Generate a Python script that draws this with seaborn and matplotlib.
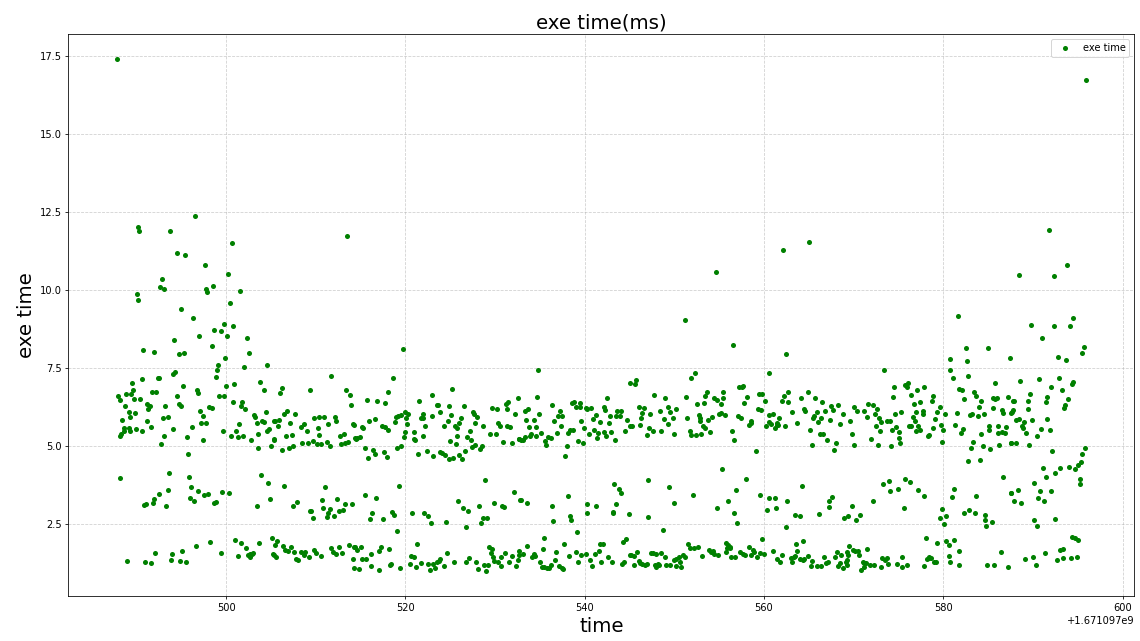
import matplotlib
matplotlib.use("Agg")
import matplotlib.pyplot as plt
import seaborn as sns
import pandas as pd
import numpy as np

T0 = 1671097000  # base epoch second; offsets below are seconds after it

# --- readings, grouped by time window (seconds after T0, exe time in ms) ---
t_a = [487.8, 490.2, 490.3, 493.7, 494.5, 495.4, 492.8, 492.6, 493.1, 490.0, 490.2, 495.0, 494.2, 490.7, 492.0, 494.7, 495.3, 494.3, 494.1, 492.4, 492.5, 489.5, 490.6, 495.2, 487.9, 488.1, 488.8, 489.4, 489.6, 489.7, 490.4, 491.7, 492.2, 494.5, 488.7, 491.2, 491.5, 493.2, 494.7, 495.0, 489.1, 489.8, 489.3, 491.3, 488.4, 491.2, 493.0, 493.5, 488.6, 488.6, 488.3, 488.2, 489.2, 489.3, 489.9, 490.6, 491.6, 494.1, 493.1, 492.7, 495.6, 495.7, 488.2, 493.6, 495.8, 493.5, 492.5, 492.0, 491.8, 491.0, 490.8, 493.3, 488.9, 490.9, 491.6, 492.1, 493.8, 494.0, 494.8, 495.1, 495.5]
v_a = [17.39, 12.02, 11.9, 11.88, 11.17, 11.13, 10.34, 10.09, 10.03, 9.86, 9.66, 9.39, 8.4, 8.06, 8.01, 7.93, 7.99, 7.38, 7.3, 7.18, 7.18, 7.01, 7.13, 6.91, 6.58, 6.47, 6.66, 6.66, 6.78, 6.51, 6.51, 6.74, 6.74, 6.58, 6.29, 6.33, 6.29, 6.29, 6.33, 6.29, 6.08, 6.06, 5.93, 6.17, 5.84, 5.81, 5.89, 5.91, 5.58, 5.47, 5.39, 5.3, 5.56, 5.48, 5.53, 5.48, 5.6, 5.53, 5.32, 5.06, 5.28, 4.74, 3.96, 4.12, 3.99, 3.57, 3.46, 3.28, 3.17, 3.12, 3.1, 3.08, 1.31, 1.29, 1.23, 1.57, 1.33, 1.53, 1.31, 1.62, 1.27]

t_b = [496.5, 500.6, 497.6, 500.2, 497.7, 497.9, 498.5, 501.5, 500.4, 496.3, 498.6, 499.4, 499.8, 500.8, 497.0, 500.1, 502.3, 498.4, 502.5, 499.9, 499.1, 499.0, 498.9, 502.0, 504.6, 503.8, 504.2, 500.0, 500.9, 496.7, 496.9, 499.2, 499.7, 500.8, 501.8, 501.7, 502.1, 498.1, 498.4, 497.1, 497.4, 497.2, 497.8, 496.2, 503.1, 503.2, 504.4, 504.0, 504.2, 503.4, 505.3, 501.4, 499.6, 501.1, 500.5, 501.3, 501.9, 502.8, 503.5, 504.5, 504.8, 505.3, 505.0, 503.6, 497.4, 496.1, 496.0, 496.4, 496.8, 497.5, 498.0, 498.6, 498.9, 499.5, 500.3, 503.9, 504.7, 504.9, 503.4, 496.6, 498.2, 499.4, 501.0, 501.6, 501.3, 502.2, 502.4, 502.7, 502.9, 503.0, 502.6, 503.7, 505.1, 505.2]
v_b = [12.38, 11.5, 10.79, 10.52, 10.02, 9.94, 10.11, 9.97, 9.59, 9.09, 8.71, 8.68, 8.91, 8.84, 8.51, 8.51, 8.44, 8.2, 7.96, 7.82, 7.6, 7.43, 7.2, 7.53, 7.58, 7.06, 6.8, 6.93, 6.99, 6.78, 6.7, 6.6, 6.6, 6.39, 6.39, 6.28, 6.18, 6.24, 6.2, 6.13, 5.97, 5.74, 5.72, 5.6, 5.99, 5.93, 6.09, 5.8, 5.76, 5.72, 5.79, 5.7, 5.48, 5.46, 5.32, 5.28, 5.32, 5.2, 5.39, 5.46, 5.53, 5.2, 5.0, 4.93, 5.2, 3.69, 3.34, 3.23, 3.54, 3.43, 3.46, 3.16, 3.19, 3.52, 3.5, 4.06, 3.81, 3.28, 3.06, 1.79, 1.91, 1.56, 1.97, 1.87, 1.47, 1.71, 1.49, 1.44, 1.52, 1.56, 1.53, 1.87, 2.04, 1.52]

t_c = [513.5, 511.7, 506.2, 506.0, 509.4, 513.4, 513.8, 513.9, 506.4, 506.8, 507.7, 505.4, 505.9, 505.8, 507.1, 508.3, 508.7, 509.0, 509.8, 510.4, 510.9, 510.2, 510.3, 511.4, 512.1, 512.3, 514.1, 506.7, 507.3, 505.3, 506.2, 507.0, 507.5, 508.5, 509.1, 509.7, 510.1, 510.6, 511.2, 511.6, 512.7, 513.1, 512.8, 513.2, 513.6, 514.4, 506.5, 511.0, 507.9, 507.4, 510.7, 512.4, 509.3, 509.5, 510.8, 511.3, 511.2, 511.6, 512.0, 512.6, 513.0, 513.3, 514.0, 509.7, 505.7, 505.4, 506.3, 505.3, 505.6, 506.6, 506.9, 507.2, 507.6, 507.8, 508.0, 508.3, 508.7, 508.8, 509.2, 509.8, 510.0, 510.6, 511.7, 511.9, 512.2, 512.6, 512.9, 513.7, 514.2, 514.3]
v_c = [11.71, 7.24, 6.86, 6.69, 6.78, 6.78, 6.63, 6.3, 6.03, 6.13, 6.03, 5.79, 5.82, 5.62, 5.72, 5.6, 5.7, 5.47, 5.88, 5.93, 5.91, 5.56, 5.36, 5.7, 5.93, 5.79, 5.7, 5.3, 5.34, 5.21, 4.86, 4.92, 5.0, 5.08, 5.08, 5.14, 5.06, 5.05, 5.12, 4.99, 5.32, 5.37, 5.05, 5.1, 5.11, 5.24, 3.72, 3.68, 3.19, 3.06, 3.27, 3.29, 2.91, 2.91, 3.02, 2.83, 2.72, 2.97, 2.74, 2.91, 2.93, 3.12, 3.14, 2.69, 1.94, 1.82, 1.79, 1.5, 1.44, 1.66, 1.63, 1.76, 1.61, 1.38, 1.34, 1.59, 1.5, 1.61, 1.44, 1.66, 1.57, 1.46, 1.71, 1.59, 1.53, 1.76, 1.57, 1.81, 1.38, 1.76]

t_d = [519.7, 518.6, 518.0, 515.7, 516.8, 517.7, 521.5, 523.0, 523.5, 520.0, 520.3, 519.5, 519.2, 518.9, 518.8, 520.1, 520.2, 522.0, 521.7, 521.9, 523.0, 522.2, 515.9, 516.6, 515.2, 515.3, 517.4, 517.7, 518.1, 519.9, 519.8, 521.0, 521.0, 521.1, 522.0, 514.3, 514.5, 514.6, 514.9, 515.5, 515.8, 516.4, 516.6, 517.6, 517.9, 519.1, 519.5, 521.4, 522.4, 523.1, 519.3, 515.5, 516.7, 516.3, 516.0, 517.5, 518.5, 518.7, 519.0, 520.7, 522.1, 522.5, 522.9, 521.3, 514.4, 514.6, 515.0, 515.2, 515.6, 514.8, 514.3, 516.2, 516.1, 517.0, 517.1, 517.3, 518.2, 518.3, 518.4, 519.4, 520.5, 520.6, 520.9, 521.2, 521.7, 522.5, 522.7, 523.1, 523.3, 523.5]
v_d = [8.09, 7.16, 6.71, 6.47, 6.44, 6.38, 6.44, 6.63, 6.3, 6.08, 6.03, 5.98, 5.94, 5.92, 5.76, 5.89, 5.71, 6.03, 5.88, 5.88, 5.96, 5.64, 5.8, 5.86, 5.6, 5.57, 5.62, 5.6, 5.52, 5.43, 5.27, 5.43, 5.21, 5.17, 5.32, 5.67, 5.22, 5.24, 5.28, 4.93, 4.6, 4.86, 4.74, 4.8, 4.64, 4.93, 5.0, 4.74, 4.83, 4.66, 3.72, 3.43, 3.33, 2.83, 2.64, 2.64, 2.87, 2.77, 2.28, 2.83, 2.83, 2.74, 2.54, 1.86, 1.77, 1.66, 1.77, 1.37, 1.37, 1.06, 1.08, 1.54, 1.14, 1.03, 1.62, 1.77, 1.68, 1.19, 1.21, 1.09, 1.21, 1.47, 1.44, 1.11, 1.24, 1.21, 1.03, 1.21, 1.08, 1.26]

t_e = [525.2, 523.6, 524.8, 526.5, 532.6, 523.8, 525.1, 527.5, 527.6, 528.0, 526.2, 524.3, 525.5, 525.7, 526.0, 524.7, 527.8, 528.7, 529.7, 530.2, 530.3, 530.5, 531.2, 531.4, 531.3, 532.2, 531.3, 531.7, 527.2, 525.8, 526.9, 527.3, 525.0, 525.6, 527.8, 527.4, 528.5, 528.3, 529.4, 530.1, 530.9, 531.9, 532.7, 523.9, 524.1, 524.4, 524.9, 525.3, 526.0, 526.3, 526.6, 528.9, 532.1, 532.8, 525.9, 526.4, 527.0, 528.2, 529.9, 530.8, 531.0, 524.5, 526.8, 528.4, 528.7, 529.1, 529.3, 529.5, 529.6, 529.8, 529.9, 530.3, 530.7, 530.7, 531.1, 531.6, 531.9, 532.3, 532.5, 524.6, 523.9, 523.7, 524.3, 525.4, 526.8, 527.1, 527.9, 528.1, 528.8, 529.0, 529.2]
v_e = [6.82, 6.3, 6.27, 6.27, 6.54, 6.07, 5.99, 6.08, 6.02, 5.93, 5.89, 5.62, 5.64, 5.56, 5.72, 5.79, 5.74, 5.62, 6.2, 6.18, 5.74, 5.62, 6.33, 6.41, 6.17, 6.01, 5.64, 5.61, 5.46, 5.3, 5.29, 5.18, 5.14, 5.06, 5.02, 4.97, 5.0, 4.89, 5.37, 5.37, 5.12, 5.08, 5.21, 4.8, 4.76, 4.7, 4.58, 4.62, 4.69, 4.58, 4.84, 3.91, 3.53, 3.26, 3.23, 3.02, 2.9, 3.06, 3.17, 3.08, 3.03, 2.57, 2.39, 2.52, 2.67, 2.69, 1.77, 1.57, 1.69, 1.44, 1.32, 1.28, 1.44, 1.14, 1.57, 1.29, 1.48, 1.14, 1.34, 1.57, 1.38, 1.31, 1.14, 1.28, 1.28, 1.39, 1.26, 1.04, 1.18, 1.0, 1.19]

t_f = [534.8, 534.7, 536.3, 533.3, 533.7, 534.9, 537.2, 537.0, 537.5, 536.6, 538.6, 538.8, 539.0, 539.5, 539.5, 540.1, 540.3, 540.7, 541.2, 540.9, 533.4, 534.3, 533.8, 534.6, 537.3, 539.6, 539.9, 541.7, 532.7, 532.9, 533.1, 533.3, 533.9, 534.0, 534.6, 535.1, 535.6, 535.7, 535.9, 536.2, 536.9, 538.1, 538.4, 538.7, 538.0, 537.8, 539.2, 539.8, 540.5, 541.0, 541.5, 541.4, 532.9, 533.6, 536.3, 538.1, 538.3, 538.5, 536.5, 540.2, 540.3, 541.2, 539.1, 533.6, 535.5, 535.3, 537.7, 532.7, 533.1, 532.7, 534.1, 534.3, 534.4, 535.0, 535.2, 535.5, 535.8, 536.0, 536.2, 536.7, 536.8, 537.1, 537.5, 537.6, 538.2, 539.0, 539.2, 539.6, 540.1, 540.6, 540.8, 541.1, 541.6, 541.8, 541.7]
v_f = [7.42, 6.55, 6.31, 6.12, 6.18, 6.02, 6.12, 5.97, 5.97, 5.79, 6.36, 6.39, 6.24, 6.24, 6.38, 6.2, 6.17, 6.21, 5.99, 5.86, 5.84, 5.84, 5.6, 5.6, 5.64, 5.79, 5.58, 5.76, 5.21, 5.19, 5.17, 5.28, 5.32, 5.39, 5.3, 5.41, 5.14, 5.01, 5.27, 5.24, 5.41, 5.41, 5.51, 5.51, 4.99, 4.68, 5.16, 5.08, 5.37, 5.49, 5.41, 5.26, 3.26, 3.17, 3.08, 3.39, 2.74, 2.62, 2.58, 3.12, 2.86, 3.08, 2.23, 1.79, 2.04, 1.7, 1.86, 1.64, 1.52, 1.5, 1.43, 1.52, 1.48, 1.28, 1.12, 1.11, 1.08, 1.08, 1.19, 1.35, 1.61, 1.14, 1.09, 1.05, 1.46, 1.6, 1.26, 1.49, 1.52, 1.35, 1.13, 1.52, 1.64, 1.27, 1.86]

t_g = [545.7, 545.1, 545.6, 542.5, 547.7, 549.0, 542.2, 542.3, 546.0, 546.6, 543.6, 544.0, 549.3, 548.4, 549.5, 550.2, 546.4, 547.3, 542.8, 543.5, 543.9, 542.7, 544.7, 546.3, 548.8, 549.8, 545.0, 545.3, 546.2, 547.2, 549.3, 547.6, 544.5, 542.1, 542.9, 548.5, 542.4, 543.4, 546.9, 549.9, 547.0, 543.3, 543.8, 544.0, 549.4, 550.0, 543.5, 543.1, 543.2, 544.9, 547.1, 548.7, 542.0, 544.3, 544.6, 542.6, 543.0, 544.1, 544.4, 545.0, 545.2, 545.5, 545.5, 545.8, 546.0, 546.2, 546.4, 546.7, 546.9, 547.4, 547.6, 547.9, 547.8, 548.0, 548.2, 548.3, 548.5, 548.9, 549.1, 549.5, 549.9, 550.2, 550.5, 550.6, 550.7, 550.2]
v_g = [7.11, 7.02, 6.97, 6.52, 6.63, 6.54, 6.24, 6.14, 6.24, 6.2, 6.12, 6.12, 6.24, 6.11, 6.08, 6.17, 6.04, 6.03, 5.97, 5.96, 5.94, 5.74, 5.83, 5.88, 5.87, 5.89, 5.63, 5.63, 5.66, 5.58, 5.69, 5.47, 5.48, 5.43, 5.43, 5.46, 5.3, 5.17, 5.34, 5.37, 3.91, 3.77, 3.62, 3.48, 3.68, 3.16, 3.12, 2.89, 2.86, 2.82, 2.72, 2.29, 1.84, 1.91, 2.0, 1.43, 1.28, 1.22, 1.28, 1.5, 1.5, 1.46, 1.19, 1.6, 1.3, 1.24, 1.22, 1.19, 1.22, 1.57, 1.56, 1.54, 1.17, 1.1, 1.22, 1.17, 1.56, 1.43, 1.17, 1.19, 1.33, 1.36, 1.42, 1.28, 1.12, 1.14]

t_h = [554.6, 551.2, 556.5, 552.3, 551.9, 551.3, 553.6, 553.4, 555.4, 554.4, 554.7, 555.4, 557.2, 557.5, 557.7, 558.1, 559.4, 559.8, 552.5, 553.3, 555.2, 557.8, 559.3, 559.7, 551.4, 552.7, 552.9, 552.9, 553.7, 554.2, 555.0, 555.2, 555.6, 557.1, 557.4, 558.6, 558.5, 558.3, 551.7, 551.9, 552.4, 553.0, 553.2, 553.4, 554.0, 556.4, 556.7, 559.1, 555.3, 558.0, 552.1, 556.9, 559.6, 556.0, 554.8, 556.6, 557.0, 559.8, 551.5, 551.7, 552.2, 552.6, 551.0, 551.2, 553.1, 553.9, 554.1, 554.3, 554.4, 554.9, 555.7, 555.8, 556.0, 556.2, 556.2, 555.9, 556.3, 556.8, 557.3, 557.6, 557.9, 558.3, 558.6, 558.8, 558.9, 559.2, 559.5, 560.0]
v_h = [10.57, 9.04, 8.24, 7.32, 7.18, 6.56, 6.72, 6.61, 6.72, 6.53, 6.47, 6.53, 6.87, 6.9, 6.92, 6.56, 6.66, 6.67, 6.33, 6.36, 6.33, 6.37, 6.18, 6.16, 5.89, 5.99, 5.89, 5.81, 5.83, 5.93, 6.03, 6.06, 5.98, 5.97, 5.88, 5.81, 5.74, 5.68, 5.46, 5.33, 5.34, 5.38, 5.63, 5.58, 5.43, 5.48, 5.18, 4.82, 4.24, 3.95, 3.41, 3.58, 3.41, 3.23, 2.99, 2.86, 2.54, 2.01, 1.84, 1.71, 1.72, 1.77, 1.5, 1.43, 1.46, 1.66, 1.59, 1.64, 1.54, 1.5, 1.6, 1.89, 1.83, 1.76, 1.72, 1.72, 1.43, 1.43, 1.61, 1.54, 1.5, 1.77, 1.5, 1.67, 1.6, 1.43, 1.56, 1.52]

t_i = [562.1, 565.0, 562.4, 560.6, 560.1, 562.7, 562.2, 562.0, 562.7, 564.1, 564.9, 565.7, 566.5, 567.5, 567.7, 568.2, 564.5, 564.6, 563.1, 565.9, 565.6, 565.5, 566.8, 568.8, 560.2, 560.5, 560.6, 561.0, 560.8, 561.2, 561.5, 561.4, 561.7, 561.6, 562.3, 563.7, 566.0, 566.4, 567.4, 568.5, 565.1, 566.2, 566.6, 567.0, 568.0, 565.4, 567.8, 564.2, 560.5, 561.2, 562.6, 567.6, 567.2, 567.3, 560.3, 561.3, 563.5, 564.0, 566.1, 568.9, 562.5, 564.4, 563.6, 561.0, 562.0, 563.7, 561.5, 561.8, 563.0, 563.1, 563.3, 563.4, 564.0, 564.3, 564.5, 564.9, 565.2, 565.4, 565.9, 566.3, 566.7, 566.9, 567.1, 567.9, 568.1, 568.3, 568.5, 568.6, 568.8, 569.1, 569.2, 569.3]
v_i = [11.28, 11.52, 7.94, 7.32, 6.44, 6.72, 6.61, 6.44, 6.39, 6.52, 6.72, 6.52, 6.39, 6.26, 6.16, 6.3, 6.18, 6.12, 6.07, 6.08, 5.97, 5.88, 6.13, 6.01, 5.63, 5.76, 6.0, 6.01, 5.71, 5.57, 5.74, 5.68, 5.89, 5.66, 5.63, 5.74, 5.77, 5.9, 5.83, 5.71, 5.52, 5.39, 5.39, 5.18, 5.1, 5.01, 4.88, 3.7, 3.32, 3.34, 3.23, 3.37, 3.24, 3.03, 2.93, 2.99, 2.79, 2.74, 2.82, 2.7, 2.39, 1.96, 1.84, 1.62, 1.51, 1.64, 1.36, 1.27, 1.41, 1.27, 1.44, 1.46, 1.36, 1.33, 1.38, 1.46, 1.14, 1.3, 1.14, 1.16, 1.43, 1.24, 1.27, 1.43, 1.59, 1.16, 1.24, 1.5, 1.08, 1.28, 1.19, 1.33]

t_j = [573.4, 575.7, 575.9, 576.1, 574.5, 574.4, 577.1, 577.8, 576.4, 569.6, 570.0, 570.4, 571.2, 571.6, 572.1, 572.6, 572.4, 571.5, 572.8, 573.1, 572.5, 572.9, 573.7, 574.1, 574.6, 575.3, 576.7, 577.4, 576.9, 577.7, 577.7, 576.6, 576.8, 576.2, 576.4, 577.2, 574.3, 574.7, 575.1, 576.9, 577.4, 569.8, 571.9, 575.0, 575.2, 570.0, 572.7, 574.2, 578.3, 573.3, 573.9, 574.0, 574.9, 575.7, 576.3, 577.2, 577.9, 572.2, 575.6, 569.8, 569.4, 570.7, 570.3, 578.1, 569.5, 569.9, 570.2, 570.5, 570.6, 571.5, 569.2, 569.4, 571.0, 571.2, 571.4, 571.1, 570.8, 571.8, 572.3, 573.0, 573.2, 573.5, 573.7, 573.8, 574.8, 575.4, 575.4, 575.9, 577.9, 578.2, 578.4]
v_j = [7.42, 6.94, 6.87, 7.0, 6.89, 6.56, 6.8, 6.87, 6.63, 5.81, 6.23, 6.13, 6.11, 6.34, 6.32, 6.18, 6.03, 5.93, 5.88, 5.77, 5.64, 5.48, 5.79, 5.79, 6.03, 6.08, 6.34, 6.39, 6.08, 6.03, 6.1, 5.93, 5.81, 5.64, 5.64, 5.64, 5.52, 5.6, 5.43, 5.48, 5.49, 5.37, 5.21, 5.24, 5.08, 5.03, 5.03, 4.99, 5.32, 3.77, 3.86, 3.54, 3.62, 3.93, 3.83, 3.59, 3.39, 3.24, 3.02, 3.06, 2.76, 2.77, 2.61, 2.04, 1.8, 1.67, 1.63, 1.63, 1.5, 1.69, 1.58, 1.5, 1.28, 1.24, 1.23, 1.1, 1.02, 1.19, 1.17, 1.1, 1.41, 1.34, 1.39, 1.21, 1.21, 1.43, 1.1, 1.18, 1.14, 1.36, 1.41]

t_k = [581.6, 582.5, 585.0, 580.7, 582.6, 587.4, 580.8, 581.1, 582.8, 585.8, 581.7, 582.1, 578.8, 578.7, 582.3, 583.4, 583.7, 584.2, 585.5, 585.8, 586.0, 587.2, 579.6, 579.3, 580.2, 581.5, 584.0, 583.0, 583.2, 583.9, 584.5, 585.5, 586.6, 586.7, 587.5, 579.1, 579.7, 578.9, 578.4, 580.0, 581.3, 582.2, 582.0, 585.1, 585.1, 586.1, 586.1, 586.5, 586.9, 587.0, 584.2, 579.8, 583.3, 583.1, 584.4, 585.2, 586.2, 587.5, 582.7, 584.1, 586.7, 587.6, 581.2, 581.0, 583.6, 579.9, 579.6, 580.1, 580.3, 582.3, 582.9, 583.5, 584.6, 584.7, 584.8, 585.4, 581.2, 579.3, 580.3, 580.6, 581.8, 586.4, 578.4, 578.6, 579.0, 579.2, 580.6, 580.8, 581.8, 584.9, 585.7, 587.2]
v_k = [9.16, 8.13, 8.13, 7.78, 7.71, 7.8, 7.43, 7.16, 7.24, 7.01, 6.83, 6.79, 6.61, 6.43, 6.5, 6.72, 6.6, 6.43, 6.54, 6.49, 6.52, 6.56, 6.24, 6.09, 6.03, 6.06, 6.24, 5.99, 6.03, 5.97, 6.01, 6.2, 6.16, 6.04, 6.06, 5.86, 5.68, 5.56, 5.33, 5.49, 5.68, 5.53, 5.41, 5.64, 5.49, 5.64, 5.42, 5.43, 5.41, 5.61, 5.37, 5.13, 5.11, 4.93, 5.0, 4.91, 5.03, 5.1, 4.5, 4.56, 4.01, 3.5, 3.62, 3.37, 3.39, 2.96, 2.67, 2.48, 2.74, 2.83, 2.93, 2.83, 2.78, 2.62, 2.43, 2.57, 1.97, 1.87, 1.96, 1.81, 1.64, 1.59, 1.42, 1.39, 1.29, 1.27, 1.46, 1.29, 1.19, 1.19, 1.19, 1.1]

t_l = [595.9, 591.8, 588.4, 592.3, 593.8, 589.8, 591.0, 592.4, 594.1, 594.5, 592.8, 593.7, 595.5, 595.7, 588.6, 590.7, 592.9, 592.0, 593.2, 594.3, 594.5, 589.7, 587.8, 587.9, 589.4, 591.6, 593.9, 593.6, 593.5, 587.7, 587.8, 589.5, 591.5, 588.1, 588.4, 589.0, 588.8, 588.9, 589.2, 589.9, 591.6, 590.9, 591.9, 590.5, 587.6, 588.1, 589.6, 592.1, 595.8, 595.5, 595.4, 595.0, 594.7, 594.0, 593.0, 592.5, 591.1, 591.4, 595.3, 595.2, 590.1, 587.6, 588.3, 590.8, 592.0, 587.9, 588.7, 590.6, 591.2, 590.1, 590.4, 592.5, 594.4, 594.7, 595.0, 589.1, 590.0, 590.3, 591.3, 592.7, 593.0, 593.3, 593.3, 594.2, 594.9]
v_l = [16.72, 11.91, 10.49, 10.43, 10.81, 8.87, 8.44, 8.85, 8.83, 9.1, 7.84, 7.74, 7.99, 8.18, 7.08, 7.13, 7.18, 6.87, 6.78, 6.97, 7.05, 6.67, 6.44, 6.43, 6.45, 6.57, 6.49, 6.32, 6.22, 6.08, 6.14, 6.17, 6.39, 5.83, 5.86, 5.77, 5.65, 5.57, 5.42, 5.83, 5.87, 5.53, 5.51, 5.32, 5.1, 5.08, 5.04, 4.83, 4.93, 4.73, 4.48, 4.39, 4.24, 4.33, 4.3, 4.12, 4.3, 4.0, 3.93, 3.79, 3.81, 3.5, 3.57, 3.55, 3.55, 3.22, 3.17, 3.33, 3.24, 2.62, 2.44, 2.66, 2.09, 2.03, 1.99, 1.37, 1.44, 1.17, 1.55, 1.35, 1.65, 1.68, 1.39, 1.39, 1.42]

time_groups = [t_a, t_b, t_c, t_d, t_e, t_f, t_g, t_h, t_i, t_j, t_k, t_l]
value_groups = [v_a, v_b, v_c, v_d, v_e, v_f, v_g, v_h, v_i, v_j, v_k, v_l]

times, values = [], []
for tg, vg in zip(time_groups, value_groups):
    n = min(len(tg), len(vg))
    if len(tg) != len(vg):
        print("length mismatch", len(tg), len(vg))
    times += tg[:n]
    values += vg[:n]

df = pd.DataFrame({"time": np.array(times) + T0, "exe time": values})

DPI = 71.25
fig, ax = plt.subplots(figsize=(16, 9), dpi=DPI)
sns.scatterplot(data=df, x="time", y="exe time", color="green", s=26,
                linewidth=0, label="exe time", ax=ax, zorder=3)
ax.set_title("exe time(ms)", fontsize=20)
ax.set_xlabel("time", fontsize=20)
ax.set_ylabel("exe time", fontsize=20)
ax.grid(True, linestyle="--", alpha=0.6)
ax.set_axisbelow(True)
ax.legend(loc="upper right")
fig.subplots_adjust(left=0.06, right=0.995, top=0.947, bottom=0.07)
fig.savefig("out.png", dpi=DPI)
